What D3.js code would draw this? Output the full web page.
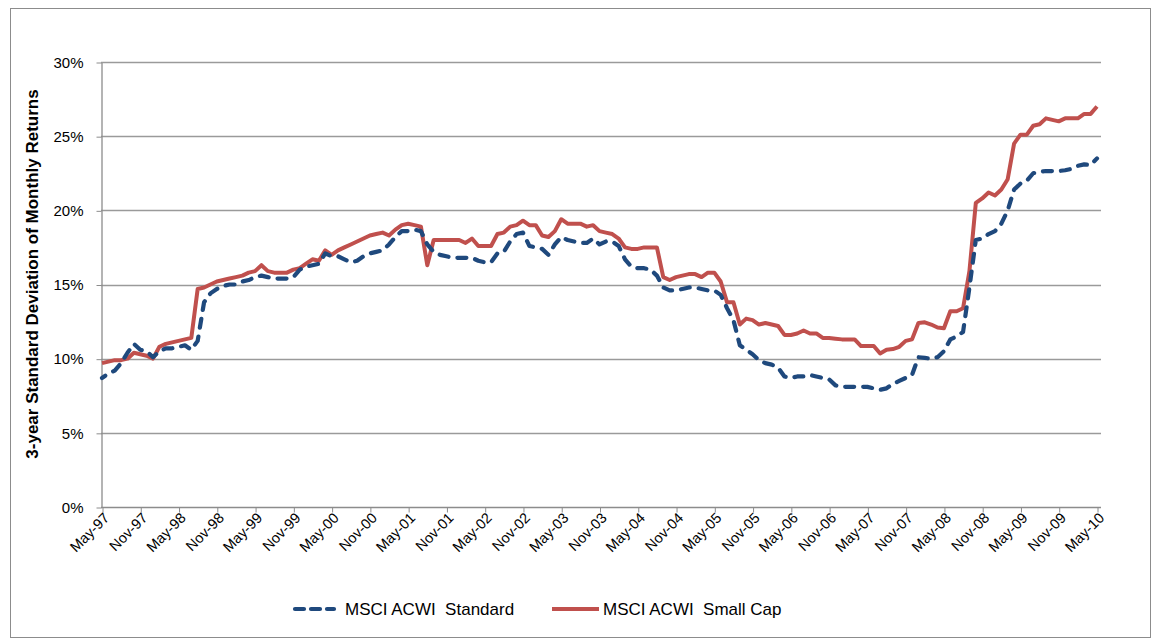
<!DOCTYPE html>
<html>
<head>
<meta charset="utf-8">
<script src="https://cdn.jsdelivr.net/npm/d3@7"></script>
<style>
  body { margin: 0; background: #fff; }
  svg { font-family: Arial, "Liberation Sans", sans-serif; }
</style>
</head>
<body>
<svg></svg>
<script>
var width = 1159;
var height = 644;

//tick labels shown on the x axis (every 6 months)
var tickLabels = ["May-97","Nov-97","May-98","Nov-98","May-99","Nov-99","May-00","Nov-00",
  "May-01","Nov-01","May-02","Nov-02","May-03","Nov-03","May-04","Nov-04","May-05","Nov-05",
  "May-06","Nov-06","May-07","Nov-07","May-08","Nov-08","May-09","Nov-09","May-10"];

var yTicks = [0, 5, 10, 15, 20, 25, 30];

//monthly categories May-97 .. May-10
var months = d3.timeMonth.range(new Date(1997, 4, 1), new Date(2010, 5, 1))
                .map(d3.timeFormat("%b-%y"));

//3-year std dev (%), one per month
var standard = [
  8.7, 9.0, 9.2, 9.7, 10.4, 11.0, 10.6, 10.5, 10.1, 10.5, 10.7, 10.7, 10.8, 10.9, 10.6, 11.2,
  13.8, 14.4, 14.7, 14.9, 15.0, 15.0, 15.2, 15.3, 15.5, 15.6, 15.5, 15.4, 15.4, 15.4, 15.5, 16.0,
  16.2, 16.3, 16.4, 17.1, 16.9, 16.9, 16.7, 16.5, 16.6, 16.9, 17.1, 17.2, 17.3, 17.7, 18.2, 18.6,
  18.6, 18.7, 18.6, 17.7, 17.2, 17.0, 16.9, 16.8, 16.8, 16.8, 16.8, 16.6, 16.5, 16.5, 17.1, 17.2,
  17.9, 18.4, 18.5, 17.6, 17.5, 17.4, 17.0, 17.7, 18.2, 18.0, 17.9, 17.8, 17.8, 18.1, 17.7, 17.9,
  17.9, 17.6, 16.7, 16.2, 16.1, 16.1, 16.0, 15.6, 14.8, 14.6, 14.6, 14.7, 14.8, 14.8, 14.7, 14.6,
  14.6, 14.3, 13.4, 12.6, 10.9, 10.6, 10.3, 9.9, 9.7, 9.6, 9.4, 8.8, 8.7, 8.8, 8.8, 8.9,
  8.8, 8.7, 8.6, 8.2, 8.1, 8.1, 8.1, 8.1, 8.1, 8.0, 7.9, 8.0, 8.3, 8.5, 8.7, 8.9,
  10.1, 10.05, 10.0, 10.1, 10.5, 11.3, 11.5, 11.8, 14.8, 18.0, 18.1, 18.4, 18.6, 19.1, 20.0, 21.4,
  21.8, 22.0, 22.5, 22.6, 22.65, 22.65, 22.65, 22.7, 22.8, 23.0, 23.1, 23.05, 23.5
];
var smallCap = [
  9.7, 9.8, 9.9, 9.9, 10.0, 10.4, 10.3, 10.2, 10.0, 10.8, 11.0, 11.1, 11.2, 11.3, 11.4, 14.7,
  14.8, 15.0, 15.2, 15.3, 15.4, 15.5, 15.6, 15.8, 15.9, 16.3, 15.9, 15.8, 15.8, 15.8, 16.0, 16.1,
  16.4, 16.7, 16.6, 17.3, 17.0, 17.3, 17.5, 17.7, 17.9, 18.1, 18.3, 18.4, 18.5, 18.3, 18.7, 19.0,
  19.1, 19.0, 18.9, 16.3, 18.0, 18.0, 18.0, 18.0, 18.0, 17.8, 18.1, 17.6, 17.6, 17.6, 18.4, 18.5,
  18.9, 19.0, 19.3, 19.0, 19.0, 18.3, 18.2, 18.6, 19.4, 19.1, 19.1, 19.1, 18.9, 19.0, 18.6, 18.5,
  18.4, 18.1, 17.5, 17.4, 17.4, 17.5, 17.5, 17.5, 15.5, 15.3, 15.5, 15.6, 15.7, 15.7, 15.5, 15.8,
  15.8, 15.2, 13.8, 13.8, 12.3, 12.7, 12.6, 12.3, 12.4, 12.3, 12.2, 11.6, 11.6, 11.7, 11.9, 11.7,
  11.7, 11.4, 11.4, 11.35, 11.3, 11.3, 11.3, 10.85, 10.85, 10.85, 10.35, 10.6, 10.65, 10.8, 11.2, 11.3,
  12.4, 12.45, 12.3, 12.1, 12.05, 13.2, 13.2, 13.4, 15.9, 20.5, 20.8, 21.2, 21.0, 21.4, 22.1, 24.5,
  25.1, 25.1, 25.7, 25.8, 26.2, 26.1, 26.0, 26.2, 26.2, 26.2, 26.5, 26.5, 27.0
];

var seriesNames = ["MSCI ACWI  Standard", "MSCI ACWI  Small Cap"];
var seriesColors = ["#1F497D", "#C0504D"];

var svg = d3.select("svg")
    .attr("width", width)
    .attr("height", height);

//outer frame
svg.append("rect")
    .attr("x", 10.5).attr("y", 8.5)
    .attr("width", 1140).attr("height", 629)
    .attr("fill", "none")
    .attr("stroke", "#8c8c8c");

var x = d3.scalePoint().domain(months).range([102, 1097]);
var y = d3.scaleLinear().domain([0, 30]).range([507, 62]);

//horizontal gridlines
svg.append("g")
  .selectAll("line")
  .data(yTicks.slice(1))
  .enter()
  .append("line")
    .attr("x1", 101).attr("x2", 1101)
    .attr("y1", d => Math.round(y(d)) + 0.5)
    .attr("y2", d => Math.round(y(d)) + 0.5)
    .attr("stroke", "#9a9a9a")
    .attr("stroke-width", 1.3);

//y axis
var yAxis = svg.append("g")
    .attr("transform", "translate(101.5,0.5)")
    .call(d3.axisLeft(y).tickValues(yTicks).tickSize(5).tickSizeOuter(0).tickFormat(d => d + "%"));
yAxis.select(".domain").attr("stroke", "#8c8c8c").attr("stroke-width", 1.3);
yAxis.selectAll(".tick line").attr("stroke", "#8c8c8c");
yAxis.selectAll("text")
    .attr("x", -18)
    .style("font-size", "15px")
    .attr("fill", "#000");

//x axis
var xAxis = svg.append("g")
    .attr("transform", "translate(0.5,507.5)")
    .call(d3.axisBottom(x).tickValues(tickLabels).tickSize(5).tickSizeOuter(0));
xAxis.select(".domain").attr("d", "M100.5,0H1100.5").attr("stroke", "#8c8c8c").attr("stroke-width", 1.3);
xAxis.selectAll(".tick line").attr("stroke", "#8c8c8c");
xAxis.selectAll("text")
    .attr("x", -3)
    .attr("y", 8)
    .attr("dy", "0.35em")
    .attr("transform", "rotate(-45)")
    .style("text-anchor", "end")
    .style("font-size", "14.5px")
    .attr("fill", "#000");

//axis title
svg.append("text")
    .attr("transform", "translate(38,274) rotate(-90)")
    .attr("text-anchor", "middle")
    .style("font-size", "17px")
    .style("font-weight", "bold")
    .text("3-year Standard Deviation of Monthly Returns");

//lines
var line = d3.line()
    .x((d, i) => x(months[i]))
    .y(d => y(d));

svg.append("path")
    .datum(smallCap)
    .attr("fill", "none")
    .attr("stroke", seriesColors[1])
    .attr("stroke-width", 4)
    .attr("stroke-linejoin", "round")
    .attr("d", line);

var stdPath = svg.append("path")
    .datum(standard)
    .attr("fill", "none")
    .attr("stroke", seriesColors[0])
    .attr("stroke-width", 4.2)
    .attr("stroke-linecap", "round")
    .attr("stroke-linejoin", "round")
    .attr("stroke-dasharray", "9,9")
    .attr("d", line);
//shift the dash pattern so the line ends on a dash like the original
var len = stdPath.node().getTotalLength();
stdPath.attr("stroke-dashoffset", 4 - (len % 18));

//legend
var legend = svg.append("g").attr("transform", "translate(0,609)");
legend.append("line")
    .attr("x1", 295).attr("x2", 334)
    .attr("stroke", seriesColors[0])
    .attr("stroke-width", 4.2)
    .attr("stroke-linecap", "round")
    .attr("stroke-dasharray", "9,7");
legend.append("text")
    .attr("x", 345).attr("dy", "0.35em")
    .style("font-size", "17px")
    .style("white-space", "pre")
    .text(seriesNames[0]);
legend.append("line")
    .attr("x1", 552).attr("x2", 599)
    .attr("stroke", seriesColors[1])
    .attr("stroke-width", 4);
legend.append("text")
    .attr("x", 603).attr("dy", "0.35em")
    .style("font-size", "17px")
    .style("white-space", "pre")
    .text(seriesNames[1]);
</script>
</body>
</html>
